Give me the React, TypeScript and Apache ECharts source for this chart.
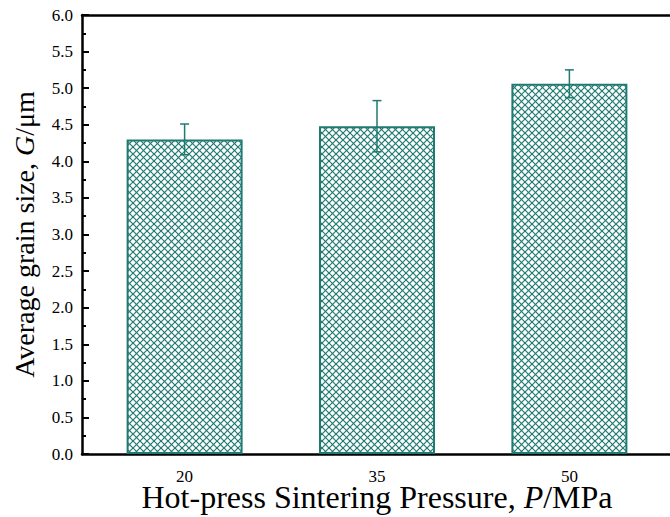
import React, { useEffect, useRef } from "react";
import * as echarts from "echarts";

const pressures = [20, 35, 50];
const grainSize = [4.3, 4.48, 5.06];
const grainErr = [0.21, 0.35, 0.19];
const yTicks = ["0.0", "0.5", "1.0", "1.5", "2.0", "2.5", "3.0", "3.5", "4.0", "4.5", "5.0", "5.5", "6.0"];

const TEAL = "#1f7a71";
const FONT = "Liberation Serif";

function makeHatch(): HTMLCanvasElement {
  const s = 7;
  const c = document.createElement("canvas");
  c.width = s;
  c.height = s;
  const ctx = c.getContext("2d")!;
  ctx.fillStyle = "#ffffff";
  ctx.fillRect(0, 0, s, s);
  ctx.strokeStyle = TEAL;
  ctx.lineWidth = 1.2;
  for (const dx of [-s, 0, s]) {
    ctx.beginPath();
    ctx.moveTo(dx, 0);
    ctx.lineTo(dx + s, s);
    ctx.stroke();
    ctx.beginPath();
    ctx.moveTo(dx, s);
    ctx.lineTo(dx + s, 0);
    ctx.stroke();
  }
  return c;
}

export default function App() {
  const ref = useRef<HTMLDivElement>(null);
  useEffect(() => {
    if (!ref.current) return;
    const chart = echarts.init(ref.current, null, { renderer: "svg" });
    const hatch = makeHatch();
    const barData = pressures.map((p, i) => [p, grainSize[i]]);
    const errData = pressures.map((p, i) => [p, grainSize[i] - grainErr[i], grainSize[i] + grainErr[i]]);
    chart.setOption({
      animation: false,
      backgroundColor: "#ffffff",
      textStyle: { fontFamily: FONT, color: "#000" },
      grid: { left: 82, right: 8, top: 15, bottom: 63, containLabel: false, outerBoundsMode: "none" },
      xAxis: [
        {
          type: "value",
          min: 12,
          max: 58,
          splitLine: { show: false },
          axisLine: { show: true, onZero: false, lineStyle: { color: "#000", width: 2.5 } },
          axisTick: { show: true, inside: true, length: 6, customValues: pressures, lineStyle: { color: "#000", width: 1.5 } },
          axisLabel: {
            customValues: pressures,
            color: "#000",
            fontFamily: FONT,
            fontSize: 17,
            lineHeight: 17,
            margin: 14,
          },
          name: "{a|Hot-press Sintering Pressure, }{i|P}{a|/MPa}",
          nameLocation: "middle",
          nameGap: 33,
          nameMoveOverlap: false,
          nameTextStyle: {
            fontFamily: FONT,
            fontSize: 32,
            lineHeight: 20,
            rich: {
              a: { fontFamily: FONT, fontSize: 32, lineHeight: 20, color: "#000" },
              i: { fontFamily: FONT, fontSize: 32, lineHeight: 20, color: "#000", fontStyle: "italic" },
            },
          },
        },
        {
          type: "value",
          position: "top",
          min: 12,
          max: 58,
          splitLine: { show: false },
          axisLine: { show: true, onZero: false, lineStyle: { color: "#000", width: 2.5 } },
          axisTick: { show: false },
          axisLabel: { show: false },
        },
      ],
      yAxis: [
        {
          type: "value",
          min: 0,
          max: 6,
          interval: 0.5,
          splitLine: { show: false },
          axisLine: { show: true, onZero: false, lineStyle: { color: "#000", width: 2.5 } },
          axisTick: { show: true, inside: true, length: 7, lineStyle: { color: "#000", width: 2 } },
          minorTick: { show: true, splitNumber: 2, length: 4, lineStyle: { color: "#000", width: 2 } },
          axisLabel: {
            color: "#000",
            fontFamily: FONT,
            fontSize: 17,
            margin: 9,
            formatter: (v: number) => yTicks[Math.round(v / 0.5)] ?? v.toFixed(1),
          },
          name: "{a|Average grain size, }{i|G}{a|/μm}",
          nameLocation: "middle",
          nameGap: 44,
          nameMoveOverlap: false,
          nameTextStyle: {
            fontFamily: FONT,
            fontSize: 28,
            rich: {
              a: { fontFamily: FONT, fontSize: 28, color: "#000" },
              i: { fontFamily: FONT, fontSize: 28, color: "#000", fontStyle: "italic" },
            },
          },
        },
        {
          type: "value",
          position: "right",
          min: 0,
          max: 6,
          splitLine: { show: false },
          axisLine: { show: true, onZero: false, lineStyle: { color: "#000", width: 2.5 } },
          axisTick: { show: false },
          axisLabel: { show: false },
        },
      ],
      series: [
        {
          type: "bar",
          xAxisIndex: 0,
          yAxisIndex: 0,
          data: barData,
          barWidth: 116,
          itemStyle: {
            color: { image: hatch, repeat: "repeat", imageWidth: 7, imageHeight: 7 },
            borderColor: TEAL,
            borderWidth: 2,
          },
          z: 2,
        },
        {
          type: "custom",
          xAxisIndex: 0,
          yAxisIndex: 0,
          data: errData,
          z: 5,
          renderItem: (params: any, api: any) => {
            const x = api.value(0);
            const lo = api.coord([x, api.value(1)]);
            const hi = api.coord([x, api.value(2)]);
            const cw = 4.5;
            const style = { stroke: TEAL, lineWidth: 1.5 };
            return {
              type: "group",
              children: [
                { type: "line", shape: { x1: lo[0], y1: lo[1], x2: hi[0], y2: hi[1] }, style },
                { type: "line", shape: { x1: hi[0] - cw, y1: hi[1], x2: hi[0] + cw, y2: hi[1] }, style },
                { type: "line", shape: { x1: lo[0] - cw, y1: lo[1], x2: lo[0] + cw, y2: lo[1] }, style },
              ],
            };
          },
        },
      ],
    });
    return () => chart.dispose();
  }, []);
  return (
    <div style={{ position: "fixed", left: 0, top: 0, width: 670, height: 517, overflow: "hidden", background: "#fff" }}>
      <div ref={ref} style={{ width: 680, height: 517 }} />
    </div>
  );
}
